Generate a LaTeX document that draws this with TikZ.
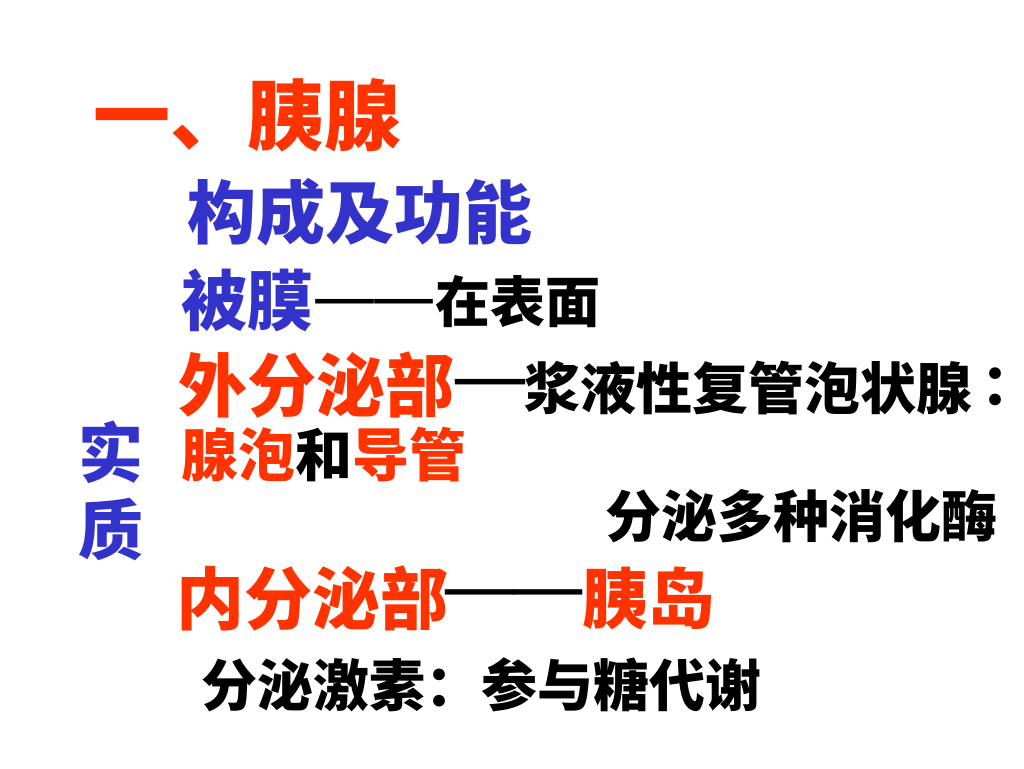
\documentclass[tikz,border=0pt]{standalone}
\usepackage{fontspec}
\setmainfont{Noto Sans CJK SC}
\newfontfamily\dashfont{DejaVu Sans}
\newfontfamily\tcfont{Noto Sans CJK TC}
\definecolor{hred}{RGB}{255,51,0}
\definecolor{hblue}{RGB}{51,51,204}
\tikzset{
  txt/.style={inner sep=0pt, outer sep=0pt, anchor=west, font=\bfseries},
  dsh/.style={inner sep=0pt, outer sep=0pt, anchor=west, font=\dashfont},
}
\newcommand{\fs}[1]{\fontsize{#1}{#1}\selectfont}
\begin{document}
\begin{tikzpicture}[x=1pt,y=-1pt]
\useasboundingbox[fill=white] (0,0) rectangle (1024,768);
\node[txt, text=hred] (title) at (93,115) {\fs{77}一、胰腺};
\node[txt, text=hblue] (gc) at (187,212) {\fs{69}构成及功能};
\node[txt, text=hblue] (bm) at (181,300) {\fs{66}被膜};
\node[dsh] (bmd) at (312,309) {\fs{65}—\kern-0.08em—};
\node[txt] (bmt) at (435,302) {\fs{55}在表面};
\node[txt, text=hred] (wf) at (178,385) {\fs{69}外分泌部};
\node[dsh] (wfd) at (451,391) {\fs{78}—};
\node[txt] (wft) at (524,388) {\fs{56}浆液性复管泡状腺};
\node[inner sep=0pt, font=\tcfont\bfseries] (wfc) at (995,388) {\fs{56}：};
\node[txt, text=hred] (xp) at (181,455) {\fs{57}腺泡\textcolor{black}{和}导管};
\node[txt, text=hblue] (s1) at (78,452) {\fs{65}实};
\node[txt, text=hblue] (s2) at (78,529) {\fs{65}质};
\node[txt] (fm) at (605,516) {\fs{56}分泌多种消化酶};
\node[txt, text=hred] (nf) at (176,598) {\fs{68}内分泌部};
\node[dsh] (nfd) at (441,602) {\fs{77}—\kern-0.11em—};
\node[txt, text=hred] (yd) at (582,598) {\fs{66}胰岛};
\node[txt] (js) at (201,685) {\fs{56}分泌激素：参与糖代谢};
\end{tikzpicture}
\end{document}
